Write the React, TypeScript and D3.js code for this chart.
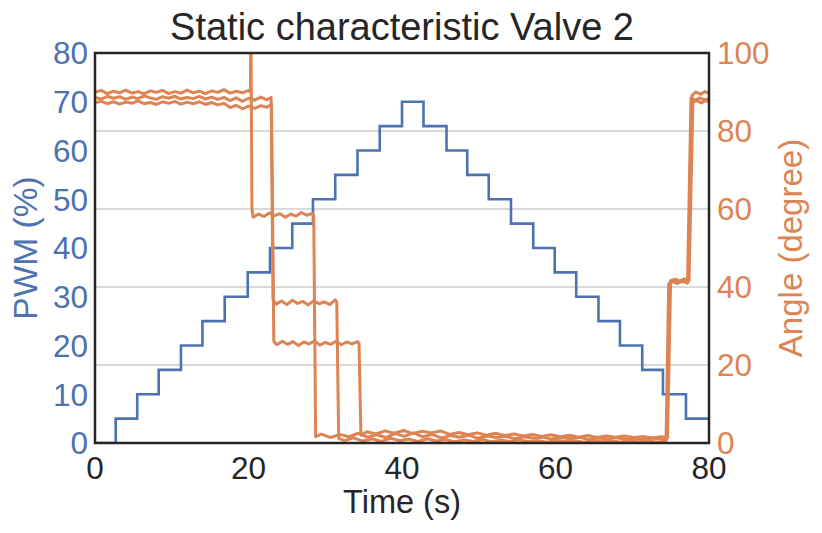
import React, { useEffect, useRef } from 'react';
import * as d3 from 'd3';

// PWM command (step changes), read from the blue staircase
const pwmTimes = [0, 2.7, 5.5, 8.3, 11.2, 14.0, 16.9, 19.9, 22.8, 25.7, 28.4, 31.3, 34.2, 37.1, 40.0, 42.8, 45.8, 48.5, 51.3, 54.2, 57.1, 59.9, 62.7, 65.6, 68.4, 71.3, 74.0, 77.0, 80];
const pwmValues = [0, 5, 10, 15, 20, 25, 30, 35, 40, 45, 50, 55, 60, 65, 70, 65, 60, 55, 50, 45, 40, 35, 30, 25, 20, 15, 10, 5, 5];

// measured valve angle, three runs [time, degree]
const angleRunA: [number, number][] = [
  [0, 89.9], [0.8, 90.4], [1.6, 89.6], [2.4, 90.2], [3.2, 89.8], [4.0, 90.5], [4.8, 89.7], [5.6, 90.1], [6.4, 89.5], [7.2, 90.3],
  [8.0, 89.9], [8.8, 90.4], [9.6, 89.6], [10.4, 90.1], [11.2, 89.7], [12.0, 90.5], [12.8, 89.8], [13.6, 90.2], [14.4, 89.6], [15.2, 90.3],
  [16.0, 89.9], [16.8, 90.6], [17.6, 89.7], [18.4, 90.2], [19.2, 89.8], [20.0, 90.4], [20.25, 90.0], [20.3, 112], [20.45, 60], [20.6, 57.9],
  [21.3, 58.7], [22.0, 58.1], [22.7, 59.0], [23.4, 58.3], [24.1, 58.8], [24.8, 57.9], [25.5, 58.7], [26.2, 58.2], [26.9, 59.1], [27.6, 58.4],
  [28.3, 58.9], [28.5, 58.2], [28.75, 1.6],
  [29.5, 2.3], [30.7, 1.4], [31.9, 2.2], [33.1, 1.6], [34.3, 2.5], [35.5, 1.5], [36.7, 2.1], [37.9, 1.4], [39.1, 2.4], [40.3, 1.7],
  [41.5, 2.6], [42.7, 1.6], [43.9, 2.2], [45.1, 1.3], [46.3, 1.9], [47.5, 1.5], [48.7, 2.0], [49.9, 1.2], [51.1, 1.8], [52.3, 1.4],
  [53.5, 1.7], [54.7, 1.1], [55.9, 1.6], [57.1, 1.2], [58.3, 1.5], [59.5, 1.0], [60.7, 1.4], [61.9, 1.1], [63.1, 1.5], [64.3, 0.9],
  [65.5, 1.3], [66.7, 1.0], [67.9, 1.4], [69.1, 0.9], [70.3, 1.2], [71.5, 1.0], [72.7, 1.3], [73.9, 0.9], [74.5, 1.1],
  [74.9, 41.2], [75.5, 41.8], [76.1, 41.3], [76.7, 41.9], [77.3, 41.4], [77.8, 89.2], [78.3, 90.0], [78.9, 89.4], [79.5, 90.1], [80, 89.6],
];

const angleRunB: [number, number][] = [
  [0, 88.6], [0.8, 88.2], [1.6, 88.9], [2.4, 88.4], [3.2, 88.8], [4.0, 88.1], [4.8, 88.7], [5.6, 88.3], [6.4, 89.0], [7.2, 88.5],
  [8.0, 88.1], [8.8, 88.8], [9.6, 88.4], [10.4, 88.9], [11.2, 88.2], [12.0, 88.6], [12.8, 88.3], [13.6, 88.9], [14.4, 88.2], [15.2, 88.7],
  [16.0, 88.1], [16.8, 88.6], [17.6, 87.8], [18.4, 88.5], [19.2, 87.6], [20.0, 88.4], [20.8, 87.9], [21.6, 88.7], [22.4, 88.0], [22.95, 88.6],
  [23.2, 36.8], [23.6, 35.6], [24.3, 36.4], [25.0, 35.5], [25.7, 36.6], [26.4, 35.8], [27.1, 36.3], [27.8, 35.4], [28.5, 36.5], [29.2, 35.7],
  [29.9, 36.2], [30.6, 35.5], [31.3, 36.7], [31.5, 36.0], [31.75, 1.2],
  [32.5, 0.6], [33.7, 1.3], [34.9, 0.5], [36.1, 1.1], [37.3, 0.4], [38.5, 1.2], [39.7, 0.6], [40.9, 1.0], [42.1, 0.4], [43.3, 1.1],
  [44.5, 0.5], [45.7, 0.9], [46.9, 0.3], [48.1, 0.8], [49.3, 0.4], [50.5, 0.9], [51.7, 0.3], [52.9, 0.7], [54.1, 0.4], [55.3, 0.8],
  [56.5, 0.3], [57.7, 0.6], [58.9, 0.2], [60.1, 0.7], [61.3, 0.3], [62.5, 0.6], [63.7, 0.2], [64.9, 0.5], [66.1, 0.3], [67.3, 0.6],
  [68.5, 0.2], [69.7, 0.5], [70.9, 0.3], [72.1, 0.6], [73.3, 0.2], [74.4, 0.4],
  [74.75, 40.8], [75.3, 41.3], [75.9, 40.9], [76.5, 41.5], [77.2, 41.0], [77.65, 88.4], [78.2, 87.9], [78.8, 88.5], [79.4, 88.0], [80, 88.3],
];

const angleRunC: [number, number][] = [
  [0, 87.2], [0.8, 87.6], [1.6, 87.0], [2.4, 87.5], [3.2, 86.9], [4.0, 87.4], [4.8, 87.1], [5.6, 87.7], [6.4, 87.0], [7.2, 87.3],
  [8.0, 86.8], [8.8, 87.5], [9.6, 87.1], [10.4, 87.6], [11.2, 86.9], [12.0, 87.4], [12.8, 87.0], [13.6, 87.5], [14.4, 86.8], [15.2, 87.3],
  [16.0, 86.7], [16.8, 87.1], [17.6, 86.0], [18.4, 86.6], [19.2, 85.7], [20.0, 86.4], [20.8, 85.8], [21.6, 86.5], [22.4, 86.1], [23.0, 86.8],
  [23.3, 26.0], [23.7, 25.2], [24.4, 26.1], [25.1, 25.3], [25.8, 26.0], [26.5, 25.0], [27.2, 25.9], [27.9, 25.4], [28.6, 26.2], [29.3, 25.1],
  [30.0, 25.8], [30.7, 25.3], [31.4, 26.1], [32.1, 25.2], [32.8, 25.9], [33.5, 25.4], [34.2, 26.0], [34.4, 25.5], [34.65, 2.0],
  [35.4, 2.9], [36.6, 2.3], [37.8, 3.1], [39.0, 2.5], [40.2, 3.2], [41.4, 2.4], [42.6, 3.0], [43.8, 2.6], [45.0, 3.1], [46.2, 2.2],
  [47.4, 2.7], [48.6, 2.1], [49.8, 2.6], [51.0, 2.0], [52.2, 2.5], [53.4, 1.9], [54.6, 2.3], [55.8, 1.8], [57.0, 2.2], [58.2, 1.7],
  [59.4, 2.1], [60.6, 1.6], [61.8, 2.0], [63.0, 1.5], [64.2, 1.9], [65.4, 1.4], [66.6, 1.8], [67.8, 1.5], [69.0, 1.8], [70.2, 1.4],
  [71.4, 1.7], [72.6, 1.3], [73.8, 1.6], [74.6, 1.4],
  [75.0, 41.6], [75.6, 42.0], [76.2, 41.5], [76.8, 42.1], [77.4, 41.7], [77.9, 87.3], [78.4, 87.8], [79.0, 87.2], [79.6, 87.9], [80, 87.4],
];

const timeTicks = [0, 20, 40, 60, 80];
const pwmTicks = [0, 10, 20, 30, 40, 50, 60, 70, 80];
const angleTicks = [0, 20, 40, 60, 80, 100];

const BLUE = '#4c72b0';
const ORANGE = '#dd8452';
const DARK = '#262626';
const FONT = '"Liberation Sans", Arial, sans-serif';

const App: React.FC = () => {
  const svgRef = useRef<SVGSVGElement>(null);

  useEffect(() => {
    if (!svgRef.current) return;
    const svg = d3.select(svgRef.current);
    svg.selectAll('*').remove();

    const left = 95, right = 709, top = 53, bottom = 443;
    const x = d3.scaleLinear().domain([0, 80]).range([left, right]);
    const yPwm = d3.scaleLinear().domain([0, 80]).range([bottom, top]);
    const yAngle = d3.scaleLinear().domain([0, 100]).range([bottom, top]);

    svg.append('defs').append('clipPath').attr('id', 'plot-clip')
      .append('rect')
      .attr('x', left).attr('y', top)
      .attr('width', right - left).attr('height', bottom - top);

    // grid from the angle axis
    svg.append('g')
      .selectAll('line')
      .data(angleTicks.filter(t => t > 0 && t < 100))
      .enter()
      .append('line')
      .attr('x1', left).attr('x2', right)
      .attr('y1', d => yAngle(d)).attr('y2', d => yAngle(d))
      .attr('stroke', '#cccccc')
      .attr('stroke-width', 1.5);

    const plot = svg.append('g').attr('clip-path', 'url(#plot-clip)');

    const pwmLine = d3.line<number>()
      .x((_, i) => x(pwmTimes[i]))
      .y(d => yPwm(d))
      .curve(d3.curveStepAfter);

    plot.append('path')
      .attr('d', pwmLine(pwmValues) || '')
      .attr('fill', 'none')
      .attr('stroke', BLUE)
      .attr('stroke-width', 2.6);

    const angleLine = d3.line<[number, number]>()
      .x(d => x(d[0]))
      .y(d => yAngle(d[1]));

    [angleRunA, angleRunB, angleRunC].forEach(run => {
      plot.append('path')
        .attr('d', angleLine(run) || '')
        .attr('fill', 'none')
        .attr('stroke', ORANGE)
        .attr('stroke-width', 3)
        .attr('stroke-linejoin', 'round');
    });

    // frame
    svg.append('rect')
      .attr('x', left).attr('y', top)
      .attr('width', right - left).attr('height', bottom - top)
      .attr('fill', 'none')
      .attr('stroke', DARK)
      .attr('stroke-width', 2.5);

    const tickFont = 31.5;

    svg.append('g')
      .selectAll('text')
      .data(timeTicks)
      .enter()
      .append('text')
      .attr('x', d => x(d))
      .attr('y', 479)
      .attr('text-anchor', 'middle')
      .attr('font-size', tickFont)
      .attr('fill', DARK)
      .text(d => d);

    svg.append('g')
      .selectAll('text')
      .data(pwmTicks)
      .enter()
      .append('text')
      .attr('x', 88)
      .attr('y', d => yPwm(d))
      .attr('dy', '0.36em')
      .attr('text-anchor', 'end')
      .attr('font-size', tickFont)
      .attr('fill', BLUE)
      .text(d => d);

    svg.append('g')
      .selectAll('text')
      .data(angleTicks)
      .enter()
      .append('text')
      .attr('x', 717)
      .attr('y', d => yAngle(d))
      .attr('dy', '0.36em')
      .attr('text-anchor', 'start')
      .attr('font-size', tickFont)
      .attr('fill', ORANGE)
      .text(d => d);

    svg.append('text')
      .attr('x', (left + right) / 2)
      .attr('y', 513)
      .attr('text-anchor', 'middle')
      .attr('font-size', 32.5)
      .attr('fill', DARK)
      .text('Time (s)');

    svg.append('text')
      .attr('transform', `translate(37,${(top + bottom) / 2}) rotate(-90)`)
      .attr('text-anchor', 'middle')
      .attr('font-size', 33.5)
      .attr('fill', BLUE)
      .text('PWM (%)');

    svg.append('text')
      .attr('transform', `translate(802,${(top + bottom) / 2}) rotate(-90)`)
      .attr('text-anchor', 'middle')
      .attr('font-size', 33)
      .attr('fill', ORANGE)
      .text('Angle (degree)');

    svg.append('text')
      .attr('x', (left + right) / 2)
      .attr('y', 40)
      .attr('text-anchor', 'middle')
      .attr('font-size', 38)
      .attr('fill', DARK)
      .text('Static characteristic Valve 2');
  }, []);

  return (
    <div style={{ position: 'absolute', left: 0, top: 0 }}>
      <svg ref={svgRef} width={822} height={533} style={{ display: 'block', fontFamily: FONT, background: '#fff' }}></svg>
    </div>
  );
};

export default App;
